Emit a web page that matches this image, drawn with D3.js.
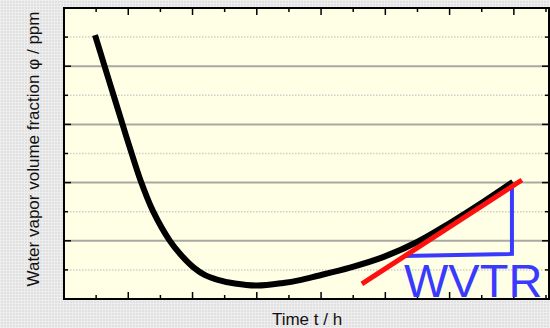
<!DOCTYPE html>
<meta charset="utf-8">

<!-- Load d3.js -->
<script src="https://d3js.org/d3.v7.min.js"></script>

<!-- Create a div where the graph will take place -->
<div id="my_dataviz"></div>

<style>
  body { margin: 0; }
  text { font-family: "Liberation Sans", Arial, sans-serif; }
</style>

<script>
    // measured water vapor fraction over time
    var timeH = [0.965, 1.26, 1.54, 1.82, 2.1, 2.4, 2.77, 3.3, 3.67, 4.05, 4.39, 4.76,
                 5.32, 6.01, 6.82, 7.34, 7.87, 8.9, 9.93, 10.99, 12.01, 13.04, 13.97];
    var phiPpm = [9.07, 8.01, 7.01, 6.01, 5.02, 4.02, 3.02, 1.99, 1.48, 1.07, 0.82, 0.67,
                  0.53, 0.46, 0.55, 0.65, 0.79, 1.08, 1.44, 1.96, 2.61, 3.33, 4.02];

    // linear fit of the steady-state part (tangent) and the slope triangle
    var fitT = [9.27, 14.25];
    var fitPhi = [0.52, 4.09];
    var triT = [10.55, 13.94, 13.94];
    var triPhi = [1.48, 1.55, 3.85];

    // tick positions (no numbers are printed on the axes)
    var xTicks = d3.range(0, 16, 1);
    var yTicks = d3.range(1, 10, 1);

    var xLabel = "Time t / h";
    var yLabel = "Water vapor volume fraction \u03c6 / ppm";
    var annotation = "WVTR";

    // set the dimensions and margins of the graph
    var W = 550, H = 328;
    var margin = {top: 8, right: 1, bottom: 29, left: 64},
        width = W - margin.left - margin.right,
        height = H - margin.top - margin.bottom;

    var svg = d3.select("#my_dataviz")
      .append("svg")
        .attr("width", W)
        .attr("height", H);

    // textured grey page background
    var defs = svg.append("defs");
    var pat = defs.append("pattern")
        .attr("id", "bgtex")
        .attr("width", 3).attr("height", 3)
        .attr("patternUnits", "userSpaceOnUse");
    pat.append("rect").attr("width", 3).attr("height", 3).attr("fill", "#e0e0e0");
    pat.append("rect").attr("width", 3).attr("height", 1).attr("fill", "#eeeeee");
    pat.append("rect").attr("width", 1).attr("height", 3).attr("fill", "#eeeeee");

    svg.append("rect")
        .attr("width", W).attr("height", H)
        .attr("fill", "url(#bgtex)");

    var x = d3.scaleLinear()
        .domain([0, 15])
        .range([margin.left, margin.left + 482]);
    var y = d3.scaleLinear()
        .domain([0, 10])
        .range([margin.top + height, margin.top]);

    // plot area
    svg.append("rect")
        .attr("x", margin.left).attr("y", margin.top)
        .attr("width", width).attr("height", height)
        .attr("fill", "#ffffe6");

    // horizontal grid: solid on even values, dotted on odd ones
    svg.append("g")
      .selectAll("line")
      .data(yTicks)
      .join("line")
        .attr("x1", margin.left).attr("x2", margin.left + width)
        .attr("y1", d => y(d)).attr("y2", d => y(d))
        .attr("stroke", d => d % 2 === 0 ? "#a9a9a2" : "#cfcfc8")
        .attr("stroke-width", d => d % 2 === 0 ? 2 : 1.5)
        .attr("stroke-dasharray", d => d % 2 === 0 ? null : "1.5,1.5");

    // inward ticks on all four sides, longer on even values
    var tickLen = d => d % 2 === 0 ? 7 : 4;
    var ticks = svg.append("g")
        .attr("stroke", "#000")
        .attr("stroke-width", 1.5);

    ticks.selectAll(".xb")
      .data(xTicks.filter(d => d > 0))
      .join("line")
        .attr("class", "xb")
        .attr("x1", d => x(d)).attr("x2", d => x(d))
        .attr("y1", y(0)).attr("y2", d => y(0) - tickLen(d));
    ticks.selectAll(".xt")
      .data(xTicks.filter(d => d > 0))
      .join("line")
        .attr("class", "xt")
        .attr("x1", d => x(d)).attr("x2", d => x(d))
        .attr("y1", y(10)).attr("y2", d => y(10) + tickLen(d));
    ticks.selectAll(".yl")
      .data(yTicks)
      .join("line")
        .attr("class", "yl")
        .attr("y1", d => y(d)).attr("y2", d => y(d))
        .attr("x1", margin.left).attr("x2", d => margin.left + tickLen(d));
    ticks.selectAll(".yr")
      .data(yTicks)
      .join("line")
        .attr("class", "yr")
        .attr("y1", d => y(d)).attr("y2", d => y(d))
        .attr("x1", margin.left + width).attr("x2", d => margin.left + width - tickLen(d));

    // measured curve
    var data = timeH.map((t, i) => [t, phiPpm[i]]);
    var line = d3.line()
        .x(d => x(d[0]))
        .y(d => y(d[1]))
        .curve(d3.curveCatmullRom.alpha(0.5));

    svg.append("path")
        .datum(data)
        .attr("d", line)
        .attr("fill", "none")
        .attr("stroke", "#000")
        .attr("stroke-width", 6);

    // slope triangle
    svg.append("path")
        .datum(triT.map((t, i) => [t, triPhi[i]]))
        .attr("d", d3.line().x(d => x(d[0])).y(d => y(d[1])))
        .attr("fill", "none")
        .attr("stroke", "#3a3aff")
        .attr("stroke-width", 4);

    // tangent
    svg.append("line")
        .attr("x1", x(fitT[0])).attr("y1", y(fitPhi[0]))
        .attr("x2", x(fitT[1])).attr("y2", y(fitPhi[1]))
        .attr("stroke", "#ff1010")
        .attr("stroke-width", 5);

    svg.append("text")
        .attr("x", x(triT[0]) + 1)
        .attr("y", y(0.07))
        .attr("font-size", "47px")
        .attr("fill", "#3a3aff")
        .text(annotation);

    // frame
    svg.append("rect")
        .attr("x", margin.left).attr("y", margin.top)
        .attr("width", width).attr("height", height)
        .attr("fill", "none")
        .attr("stroke", "#000")
        .attr("stroke-width", 2);

    // axis titles
    svg.append("text")
        .attr("x", 307)
        .attr("y", 325)
        .attr("text-anchor", "middle")
        .attr("font-size", "17px")
        .attr("fill", "#111")
        .text(xLabel);

    svg.append("text")
        .attr("transform", "translate(39,149) rotate(-90)")
        .attr("text-anchor", "middle")
        .attr("font-size", "17px")
        .attr("fill", "#111")
        .text(yLabel);
</script>
